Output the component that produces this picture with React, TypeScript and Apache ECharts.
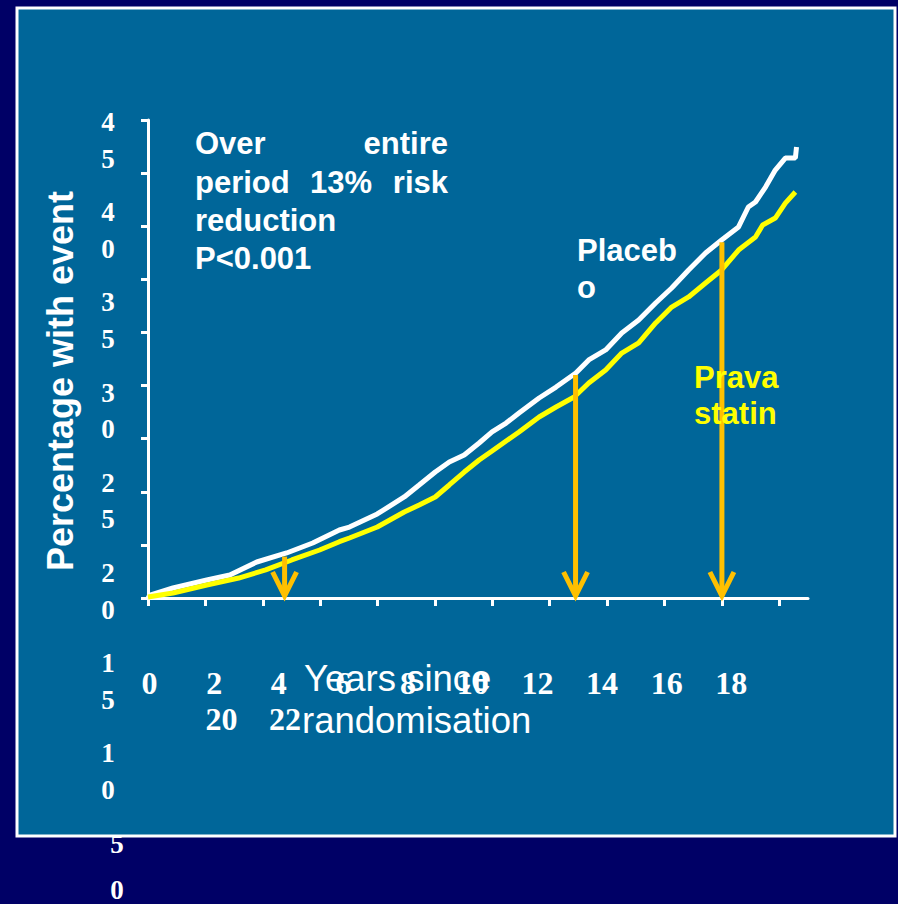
import React, { useEffect, useRef } from "react";
import * as echarts from "echarts";

// ---- data (years since randomisation, % with event) ----
const placeboYears = [0, 0.07, 0.87, 2.05, 2.85, 3.79, 4.83, 5.74, 6.67, 7.02, 7.99, 8.93, 9.45, 10.01, 10.5, 11.02, 11.54, 11.99, 12.48, 12.93, 13.63, 14.22, 14.91, 15.36, 15.95, 16.51, 17.1, 17.69, 18.25, 18.84, 19.43, 19.99, 20.58, 20.92, 21.17, 21.52, 21.86, 22.21, 22.56, 22.6];
const placeboPct = [0, 0.28, 0.94, 1.69, 2.17, 3.39, 4.24, 5.18, 6.4, 6.68, 7.91, 9.51, 10.64, 11.86, 12.8, 13.46, 14.59, 15.63, 16.47, 17.42, 18.83, 19.86, 21.18, 22.41, 23.35, 24.95, 26.17, 27.77, 29.18, 30.88, 32.48, 33.7, 34.93, 36.81, 37.28, 38.69, 40.29, 41.42, 41.42, 42.46];

const pravaYears = [0, 0.87, 2.05, 3.16, 4.1, 5.01, 5.98, 6.67, 7.02, 7.99, 8.93, 9.45, 10.01, 10.5, 11.02, 11.54, 11.99, 12.48, 12.93, 13.63, 14.22, 14.85, 15.36, 15.95, 16.51, 17.1, 17.69, 18.25, 18.84, 19.43, 19.99, 20.58, 21.17, 21.42, 21.86, 22.21, 22.56];
const pravaPct = [0.1, 0.47, 1.22, 1.88, 2.64, 3.58, 4.52, 5.3, 5.65, 6.68, 8.1, 8.75, 9.51, 10.64, 11.86, 12.99, 13.84, 14.78, 15.63, 17.04, 17.98, 18.92, 20.24, 21.46, 23.06, 24.01, 25.89, 27.39, 28.34, 29.65, 30.88, 32.76, 33.98, 35.11, 35.77, 37.18, 38.22];

const arrowYears = [4.76, 14.9, 20.0];
const arrowTops = [3.9, 21.0, 33.5];

const yTickLabels = ["45", "40", "35", "30", "25", "20", "15", "10", "5", "0"];
const xTickLabels = ["0", "2", "4", "6", "8", "10", "12", "14", "16", "18", "20", "22"];
const xTickValues = [0, 2, 4, 6, 8, 10, 12, 14, 16, 18, 20, 22];

const annotationLines = ["Over entire", "period 13% risk", "reduction", "P<0.001"];
const placeboLabel = ["Placeb", "o"];
const pravaLabel = ["Prava", "statin"];
const xTitleLines = ["Years since", "randomisation"];
const yTitle = "Percentage with event";

const SANS = '"Liberation Sans", Arial, sans-serif';
const SERIF = '"Liberation Serif", "Times New Roman", serif';
const WHITE = "#ffffff";
const YELLOW = "#ffff00";
const ORANGE = "#ffc000";

function zip(a: number[], b: number[]) {
  return a.map((v, i) => [v, b[i]]);
}

function txt(text: string, x: number, y: number, font: string, fill: string, align = "left", extra: any = {}) {
  return {
    type: "text",
    x,
    y,
    z: 100,
    silent: true,
    ...extra,
    style: { text, fill, font, textAlign: align, textVerticalAlign: "middle" },
  };
}

export default function App() {
  const ref = useRef<HTMLDivElement>(null);

  useEffect(() => {
    if (!ref.current) return;
    const chart = echarts.init(ref.current, null, { renderer: "svg" });

    const graphics: any[] = [];
    // slide panel
    graphics.push({
      type: "rect",
      z: -10,
      silent: true,
      shape: { x: 17, y: 8, width: 878, height: 828 },
      style: { fill: "#006699", stroke: WHITE, lineWidth: 3 },
    });

    // y-axis title
    graphics.push(
      txt(yTitle, 60, 381, `bold 36px ${SANS}`, WHITE, "center", { rotation: Math.PI / 2 })
    );

    // annotation (justified block)
    const aFont = `bold 31px ${SANS}`;
    const l1 = annotationLines[0].split(" ");
    graphics.push(txt(l1[0], 195, 143, aFont, WHITE, "left"));
    graphics.push(txt(l1[1], 448, 143, aFont, WHITE, "right"));
    const l2 = annotationLines[1].split(" ");
    graphics.push(txt(l2[0], 195, 182, aFont, WHITE, "left"));
    graphics.push(txt(l2[1], 310, 182, aFont, WHITE, "left"));
    graphics.push(txt(l2[2], 448, 182, aFont, WHITE, "right"));
    graphics.push(txt(annotationLines[2], 195, 220, aFont, WHITE, "left"));
    graphics.push(txt(annotationLines[3], 195, 258, aFont, WHITE, "left"));

    placeboLabel.forEach((s, i) => graphics.push(txt(s, 577, 250 + 37 * i, aFont, WHITE, "left")));
    pravaLabel.forEach((s, i) => graphics.push(txt(s, 694, 377 + 36 * i, aFont, YELLOW, "left")));

    // x-axis title
    const tFont = `36.5px ${SANS}`;
    graphics.push(txt(xTitleLines[0], 304, 678, tFont, WHITE, "left"));
    graphics.push(txt(xTitleLines[1], 302, 720, tFont, WHITE, "left"));

    // y tick labels (digits stacked vertically)
    const yFont = `bold 27px ${SERIF}`;
    yTickLabels.forEach((lab, i) => {
      const startY = i < yTickLabels.length - 1 ? 122 + 90.2 * i : 890;
      const cx = lab.length === 1 ? 117 : 108;
      lab.split("").forEach((ch, k) => {
        graphics.push(txt(ch, cx, startY + 36.5 * k, yFont, WHITE, "center"));
      });
    });

    // x tick labels (wrapped on two rows)
    const xFont = `bold 32px ${SERIF}`;
    xTickLabels.forEach((lab, i) => {
      const row = i < 10 ? 0 : 1;
      const cx = row === 0 ? 149.5 + 64.65 * i : 221.5 + 63.5 * (i - 10);
      const cy = row === 0 ? 682.5 : 718.5;
      graphics.push(txt(lab, cx, cy, xFont, WHITE, "center"));
    });

    chart.setOption({
      animation: false,
      backgroundColor: "#000066",
      grid: { left: 148, top: 120, width: 660, height: 478, containLabel: false },
      xAxis: {
        type: "value",
        min: 0,
        max: 23,
        interval: 2,
        axisLine: { show: true, lineStyle: { color: WHITE, width: 3 } },
        axisTick: { show: true, inside: false, length: 8, lineStyle: { color: WHITE, width: 3 }, customValues: xTickValues },
        axisLabel: { show: false },
        splitLine: { show: false },
      },
      yAxis: {
        type: "value",
        min: 0,
        max: 45,
        interval: 5,
        axisLine: { show: true, lineStyle: { color: WHITE, width: 3 } },
        axisTick: { show: true, inside: false, length: 7, lineStyle: { color: WHITE, width: 3 } },
        axisLabel: { show: false },
        splitLine: { show: false },
      },
      graphic: graphics,
      series: [
        {
          name: "Placebo",
          type: "line",
          data: zip(placeboYears, placeboPct),
          showSymbol: false,
          symbol: "none",
          lineStyle: { color: WHITE, width: 5 },
          z: 3,
        },
        {
          name: "Pravastatin",
          type: "line",
          data: zip(pravaYears, pravaPct),
          showSymbol: false,
          symbol: "none",
          lineStyle: { color: YELLOW, width: 5 },
          z: 4,
        },
        {
          name: "Arrows",
          type: "custom",
          z: 5,
          data: zip(arrowYears, arrowTops),
          encode: { x: 0, y: 1 },
          renderItem: (params: any, api: any) => {
            const top = api.coord([api.value(0), api.value(1)]);
            const base = api.coord([api.value(0), 0]);
            const tipY = base[1] - 2;
            const style = { stroke: ORANGE, lineWidth: 5, fill: null };
            return {
              type: "group",
              children: [
                { type: "line", shape: { x1: top[0], y1: top[1], x2: base[0], y2: tipY }, style },
                {
                  type: "polyline",
                  shape: { points: [[base[0] - 12, tipY - 24], [base[0], tipY], [base[0] + 12, tipY - 24]] },
                  style,
                },
              ],
            };
          },
        },
      ],
    });

    return () => chart.dispose();
  }, []);

  return <div ref={ref} style={{ position: "fixed", left: 0, top: 0, width: 898, height: 904 }} />;
}
